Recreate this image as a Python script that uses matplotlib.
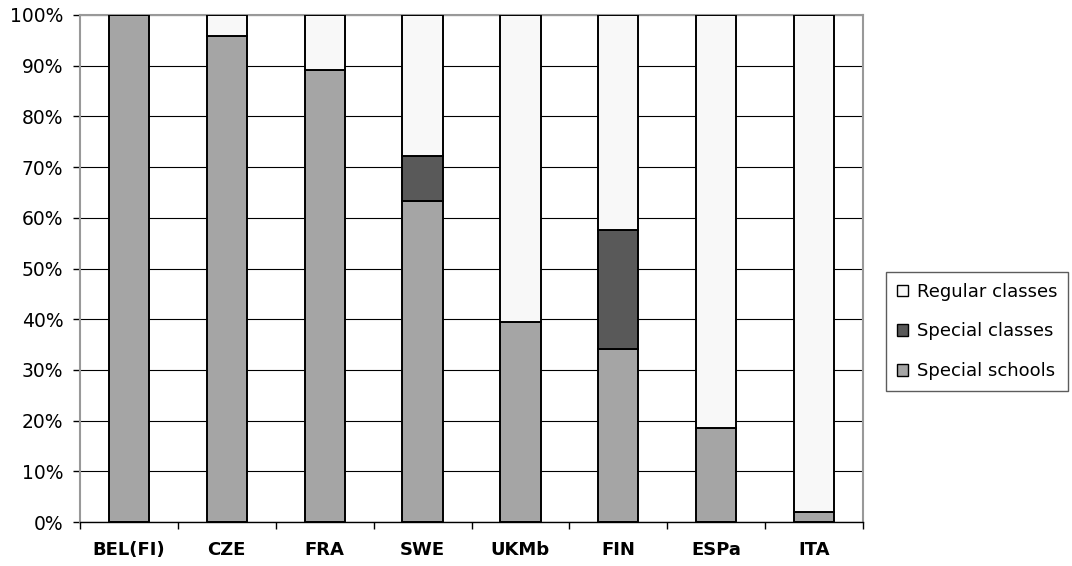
import numpy as np
import matplotlib
matplotlib.use("Agg")
import matplotlib.pyplot as plt
from matplotlib.patches import Patch

# share of pupils by type of provision, in percent
countries = ["BEL(FI)", "CZE", "FRA", "SWE", "UKMb", "FIN", "ESPa", "ITA"]
special_schools = [100.0, 95.8, 89.1, 63.4, 39.4, 34.2, 18.5, 1.9]
special_classes = [0.0, 0.0, 0.0, 8.8, 0.0, 23.3, 0.0, 0.0]
regular_classes = [100 - a - b for a, b in zip(special_schools, special_classes)]

plt.rcParams["font.family"] = "DejaVu Sans"

fig = plt.figure(figsize=(10.72, 5.66), dpi=100)
ax = fig.add_axes([80 / 1072, 44 / 566, 783 / 1072, 507 / 566])

x = np.arange(len(countries))
w = 0.41
edge = dict(edgecolor="black", linewidth=1.4, zorder=3)

ax.bar(x, special_schools, w, color="#a5a5a5", **edge)
ax.bar(x, special_classes, w, bottom=special_schools, color="#595959", **edge)
bottom2 = np.array(special_schools) + np.array(special_classes)
ax.bar(x, regular_classes, w, bottom=bottom2, color="#f8f8f8", **edge)

ax.set_xlim(-0.5, len(countries) - 0.5)
ax.set_ylim(0, 100)
ax.set_yticks(np.arange(0, 101, 10))
ax.set_yticklabels([f"{v}%" for v in range(0, 101, 10)], fontsize=13.5)
ax.yaxis.grid(True, color="black", linewidth=0.8, zorder=0)
ax.set_axisbelow(True)

# category labels centred under bars, tick marks between categories
ax.set_xticks(x)
ax.set_xticklabels(countries, fontsize=13, fontweight="bold")
ax.tick_params(axis="x", length=0, pad=14)
ax.set_xticks(np.arange(-0.5, len(countries)), minor=True)
ax.tick_params(axis="x", which="minor", length=5, width=1, color="black")
ax.tick_params(axis="y", length=5, width=1, color="black", pad=7)

for side in ["top", "right", "left"]:
    ax.spines[side].set_color("#999999")
    ax.spines[side].set_linewidth(1.5)
ax.spines["bottom"].set_color("black")
ax.spines["bottom"].set_linewidth(1.0)

handles = [
    Patch(facecolor="#f8f8f8", edgecolor="black", label="Regular classes"),
    Patch(facecolor="#595959", edgecolor="black", label="Special classes"),
    Patch(facecolor="#a5a5a5", edgecolor="black", label="Special schools"),
]
leg = fig.legend(handles=handles, loc="upper left",
                 bbox_to_anchor=(886 / 1072, 1 - 272 / 566),
                 fontsize=13, frameon=True, fancybox=False,
                 handlelength=0.6, handleheight=0.6, handletextpad=0.5,
                 labelspacing=1.2, borderpad=0.6, borderaxespad=0)
leg.get_frame().set_edgecolor("#333333")
leg.get_frame().set_linewidth(1.0)

fig.savefig("out.png", dpi=100)
